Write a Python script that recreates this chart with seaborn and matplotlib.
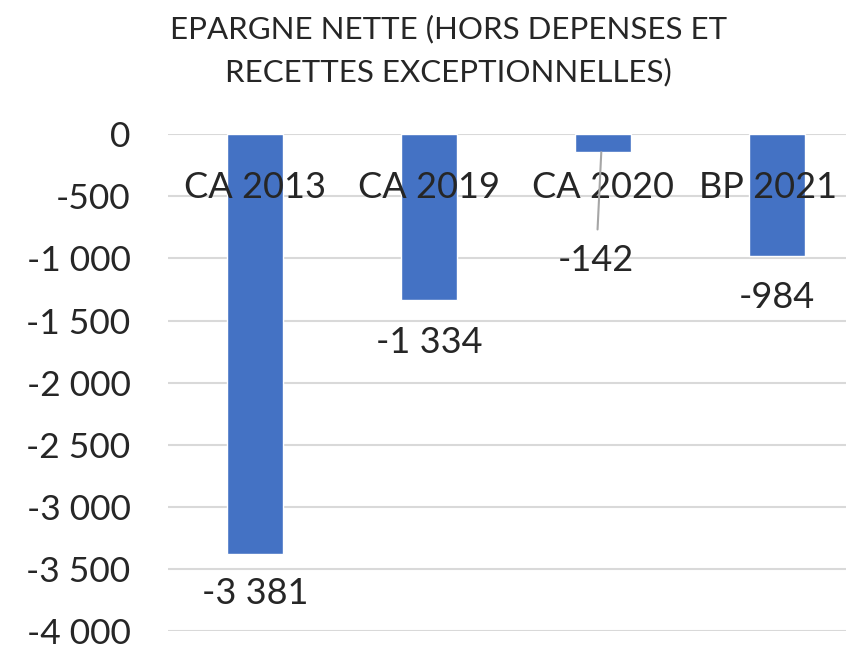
import pandas as pd
import matplotlib.pyplot as plt
import seaborn as sns

categories = ["CA 2013", "CA 2019", "CA 2020", "BP 2021"]
values = [-3381, -1334, -142, -984]
labels = ["-3 381", "-1 334", "-142", "-984"]
yticks = [0, -500, -1000, -1500, -2000, -2500, -3000, -3500, -4000]
ytick_labels = ["0", "-500", "-1 000", "-1 500", "-2 000", "-2 500", "-3 000", "-3 500", "-4 000"]

df = pd.DataFrame({"cat": categories, "val": values})

sns.set_style("white")
plt.rcParams['font.family'] = ['Lato', 'DejaVu Sans']

fig = plt.figure(figsize=(8.46, 6.53), dpi=100)
ax = fig.add_axes([0.1986, 0.033, 0.8227, 0.7618])

sns.barplot(data=df, x="cat", y="val", color="#4472C4", saturation=1,
            width=0.325, ax=ax, zorder=3)

ax.set_ylim(-4000, 0)
ax.set_xlim(-0.5, 3.5)
ax.set_yticks(yticks)
ax.set_yticklabels(ytick_labels, fontsize=25.5)
ax.tick_params(axis='y', length=0, pad=27)
ax.set_xticks([])
ax.set_xlabel("")
ax.set_ylabel("")
ax.yaxis.grid(True, color="#D9D9D9", linewidth=1.5, zorder=0)
ax.set_axisbelow(True)
for s in ax.spines.values():
    s.set_visible(False)

# category names sit just under the zero line (last one pulled in from the edge)
cat_shift = [0, 0, 0, -0.05]
for i, c in enumerate(categories):
    ax.text(i + cat_shift[i], -430, c, ha='center', va='center', fontsize=26, zorder=5)

# data labels below the bars
offsets = [-310, -340, -874, -330]
for i, (v, lab) in enumerate(zip(values, labels)):
    y = v + offsets[i]
    if i == 2:
        ax.annotate(lab, xy=(i - 0.01, v - 5), xytext=(i - 0.04, y),
                    ha='center', va='center', fontsize=26, zorder=5,
                    arrowprops=dict(arrowstyle='-', color='#A6A6A6', lw=1.5,
                                    shrinkA=8, shrinkB=0))
    else:
        ax.text(i, y, lab, ha='center', va='center', fontsize=26, zorder=5)

fig.text(0.53, 0.955, "EPARGNE NETTE (HORS DEPENSES ET", ha='center', va='center', fontsize=22.5)
fig.text(0.53, 0.89, "RECETTES EXCEPTIONNELLES)", ha='center', va='center', fontsize=22.5)

plt.savefig("out.png", dpi=100)
